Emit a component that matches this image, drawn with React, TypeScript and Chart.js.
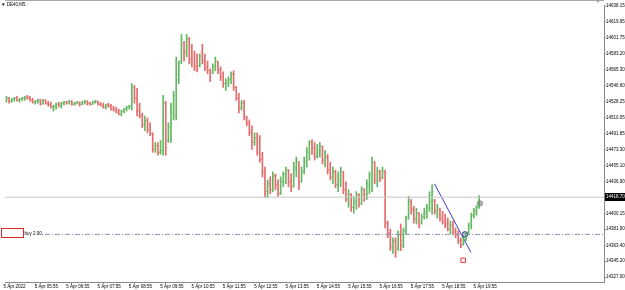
import React, { useEffect, useRef } from "react";
import { Chart, registerables } from "chart.js";

Chart.register(...registerables);

const symbolLabel = "▼ DE40,M5";
const timeLabels = [
  "5 Apr 2022", "5 Apr 05:55", "5 Apr 06:55", "5 Apr 07:55", "5 Apr 08:55", "5 Apr 09:55",
  "5 Apr 10:55", "5 Apr 11:55", "5 Apr 12:55", "5 Apr 13:55", "5 Apr 14:55", "5 Apr 15:55",
  "5 Apr 16:55", "5 Apr 17:55", "5 Apr 18:55", "5 Apr 19:55",
];
const priceTicks = [
  14638.15, 14619.95, 14601.75, 14583.2, 14565.3, 14546.6, 14528.25, 14510.05, 14491.85,
  14473.3, 14455.1, 14436.9, 14400.15, 14381.9, 14363.4, 14345.2, 14327.0,
];
const bidPrice = 14418.7;
const orderPrice = 14376.0;
const orderLabel = "buy 2.00";
const trendBars = [163.9, 177.9];
const trendPrices = [14434.1, 14355.2];
const entryMarker = { bar: 175.6, price: 14376.0 };
const positionMarker = { bar: 181.3, price: 14411.6 };
const alertMarker = { bar: 174.9, price: 14346.2 };

const opens = [
  14529.9, 14532.2, 14528.8, 14531.1, 14532.2, 14529.9, 14531.1, 14532.2, 14533.3, 14532.2,
  14529.9, 14527.7, 14528.8, 14529.9, 14526.6, 14529.9, 14526.6, 14524.3, 14522.1, 14523.2,
  14525.4, 14524.3, 14526.6, 14527.7, 14526.6, 14528.8, 14525.4, 14526.6, 14527.7, 14525.4,
  14527.7, 14528.8, 14526.6, 14525.4, 14527.7, 14528.8, 14525.4, 14524.3, 14522.1, 14524.3,
  14523.2, 14519.8, 14518.7, 14516.4, 14514.2, 14517.5, 14519.8, 14522.1, 14523.2, 14544.6,
  14532.2, 14517.5, 14511.9, 14501.8, 14506.3, 14496.1, 14491.6, 14473.6, 14478.1, 14470.2,
  14472.4, 14526.6, 14483.7, 14492.7, 14515.3, 14513.0, 14553.6, 14575.0, 14594.2, 14585.2,
  14599.8, 14577.3, 14577.3, 14569.4, 14569.4, 14585.2, 14576.2, 14568.3, 14563.8, 14561.5,
  14568.3, 14573.9, 14564.9, 14557.0, 14549.1, 14549.1, 14553.6, 14560.4, 14544.6, 14532.2,
  14520.9, 14526.6, 14509.6, 14504.0, 14492.7, 14481.5, 14487.1, 14481.5, 14462.3, 14447.7,
  14425.1, 14434.1, 14427.3, 14443.1, 14433.0, 14422.8, 14436.4, 14445.4, 14449.9, 14436.4,
  14430.7, 14451.0, 14458.9, 14436.4, 14447.7, 14458.9, 14470.2, 14481.5, 14474.7, 14465.7,
  14470.2, 14476.9, 14461.2, 14464.6, 14449.9, 14442.0, 14447.7, 14433.0, 14436.4, 14447.7,
  14427.3, 14417.2, 14421.7, 14407.1, 14411.6, 14421.7, 14411.6, 14427.3, 14418.3, 14431.9,
  14442.0, 14458.9, 14438.6, 14447.7, 14440.9, 14447.7, 14389.0, 14377.7, 14361.9, 14368.7,
  14359.7, 14375.5, 14363.1, 14380.0, 14395.8, 14413.8, 14404.8, 14393.5, 14400.3, 14389.0,
  14395.8, 14400.3, 14405.9, 14413.8, 14414.9, 14402.5, 14404.8, 14395.8, 14391.3, 14389.0,
  14382.2, 14386.8, 14380.0, 14376.6, 14368.7, 14364.2, 14370.9, 14377.7, 14385.6, 14398.0,
  14402.5, 14407.1,
];
const highs = [
  14534.5, 14533.3, 14532.2, 14533.3, 14534.5, 14532.2, 14533.3, 14534.5, 14535.6, 14534.5,
  14532.2, 14529.9, 14531.1, 14531.1, 14531.1, 14530.5, 14528.8, 14527.7, 14524.3, 14526.6,
  14527.7, 14527.7, 14528.8, 14528.8, 14529.9, 14529.4, 14527.7, 14528.8, 14528.2, 14528.8,
  14529.9, 14529.4, 14527.7, 14528.8, 14529.9, 14529.4, 14527.7, 14526.6, 14525.4, 14526.6,
  14525.4, 14523.2, 14522.1, 14519.8, 14518.7, 14520.9, 14523.2, 14524.3, 14549.1, 14546.9,
  14543.5, 14526.6, 14515.3, 14511.9, 14509.6, 14504.0, 14492.7, 14481.5, 14481.5, 14483.7,
  14535.6, 14528.8, 14504.0, 14526.6, 14540.1, 14579.5, 14575.0, 14605.5, 14597.6, 14605.5,
  14602.1, 14594.2, 14586.3, 14582.9, 14582.9, 14594.2, 14582.9, 14575.0, 14566.0, 14571.7,
  14579.5, 14575.0, 14568.3, 14562.6, 14554.7, 14557.0, 14562.6, 14563.8, 14545.7, 14537.8,
  14529.9, 14529.9, 14511.9, 14507.4, 14500.6, 14492.7, 14492.7, 14489.4, 14470.2, 14453.3,
  14438.6, 14442.0, 14447.7, 14445.4, 14438.6, 14442.0, 14447.7, 14453.3, 14450.5, 14445.4,
  14458.9, 14464.6, 14459.5, 14453.3, 14464.6, 14475.8, 14483.7, 14484.9, 14481.5, 14479.2,
  14481.5, 14477.5, 14472.4, 14467.9, 14458.9, 14453.3, 14449.9, 14447.7, 14453.3, 14448.3,
  14436.4, 14427.3, 14422.8, 14419.5, 14425.1, 14422.8, 14430.7, 14428.5, 14438.6, 14447.7,
  14464.6, 14459.5, 14453.3, 14449.9, 14453.3, 14449.9, 14391.3, 14382.2, 14372.1, 14372.1,
  14380.0, 14387.9, 14383.4, 14396.9, 14419.5, 14416.1, 14408.2, 14405.9, 14400.9, 14399.2,
  14405.9, 14410.4, 14425.1, 14433.0, 14416.1, 14410.4, 14405.9, 14402.5, 14399.2, 14394.7,
  14391.3, 14391.3, 14383.4, 14380.0, 14372.1, 14373.2, 14377.7, 14389.0, 14400.3, 14405.9,
  14409.3, 14420.6,
];
const lows = [
  14527.7, 14526.6, 14527.7, 14528.8, 14528.8, 14527.7, 14529.9, 14529.9, 14531.1, 14528.8,
  14526.6, 14525.4, 14526.6, 14524.3, 14525.4, 14525.4, 14523.2, 14520.9, 14517.5, 14519.8,
  14522.1, 14520.9, 14524.3, 14525.4, 14525.4, 14524.3, 14524.3, 14525.4, 14523.2, 14524.8,
  14525.4, 14524.3, 14524.3, 14524.8, 14526.6, 14524.3, 14523.2, 14520.9, 14519.8, 14522.1,
  14518.7, 14517.5, 14515.3, 14513.0, 14511.9, 14515.3, 14517.5, 14519.8, 14518.7, 14526.6,
  14511.9, 14509.6, 14498.4, 14495.0, 14492.7, 14489.4, 14470.2, 14470.2, 14466.8, 14467.9,
  14466.8, 14466.8, 14481.5, 14481.5, 14507.4, 14507.4, 14549.1, 14571.7, 14575.0, 14579.5,
  14571.7, 14568.3, 14563.8, 14562.6, 14568.3, 14571.7, 14563.8, 14560.4, 14551.4, 14560.4,
  14563.8, 14560.4, 14552.5, 14544.6, 14541.2, 14545.7, 14549.1, 14541.2, 14529.9, 14515.3,
  14518.7, 14507.4, 14500.6, 14489.4, 14473.6, 14478.1, 14466.8, 14458.9, 14442.0, 14418.3,
  14418.3, 14422.8, 14425.1, 14427.3, 14419.5, 14421.7, 14430.7, 14434.1, 14430.7, 14425.1,
  14430.2, 14442.0, 14427.3, 14436.0, 14445.4, 14453.3, 14461.2, 14467.9, 14461.2, 14463.4,
  14464.6, 14456.7, 14453.3, 14445.4, 14438.6, 14434.1, 14429.6, 14425.1, 14430.7, 14422.8,
  14413.8, 14407.1, 14402.5, 14400.3, 14404.8, 14407.1, 14410.4, 14413.8, 14416.1, 14422.8,
  14425.1, 14434.1, 14430.7, 14436.4, 14439.7, 14383.4, 14372.1, 14357.4, 14354.1, 14349.6,
  14357.4, 14357.4, 14360.8, 14376.6, 14393.5, 14399.2, 14389.0, 14387.9, 14383.4, 14387.9,
  14393.5, 14394.7, 14402.5, 14399.2, 14399.2, 14394.7, 14391.3, 14387.9, 14383.4, 14380.0,
  14376.6, 14375.5, 14372.1, 14365.3, 14360.8, 14363.6, 14368.7, 14376.6, 14382.2, 14394.7,
  14398.0, 14405.9,
];
const closes = [
  14532.2, 14528.8, 14531.1, 14532.2, 14529.9, 14531.1, 14532.2, 14533.3, 14532.2, 14529.9,
  14527.7, 14528.8, 14529.9, 14525.4, 14529.9, 14526.6, 14524.3, 14522.1, 14523.2, 14525.4,
  14524.3, 14526.6, 14527.7, 14526.6, 14528.8, 14525.4, 14526.6, 14527.7, 14525.4, 14527.7,
  14528.8, 14526.6, 14525.4, 14527.7, 14528.8, 14525.4, 14524.3, 14522.1, 14524.3, 14523.2,
  14519.8, 14518.7, 14516.4, 14514.2, 14517.5, 14519.8, 14522.1, 14523.2, 14544.6, 14532.2,
  14517.5, 14511.9, 14501.8, 14506.3, 14496.1, 14491.6, 14473.6, 14478.1, 14470.2, 14472.4,
  14526.6, 14475.8, 14499.5, 14522.1, 14535.6, 14560.4, 14571.7, 14599.8, 14585.2, 14601.0,
  14577.3, 14573.9, 14568.3, 14564.9, 14580.7, 14575.0, 14567.1, 14563.8, 14555.9, 14569.4,
  14575.0, 14564.9, 14555.9, 14549.1, 14551.4, 14553.6, 14559.3, 14544.6, 14532.2, 14520.9,
  14526.6, 14510.8, 14504.0, 14492.7, 14481.5, 14487.1, 14470.2, 14462.3, 14447.7, 14425.1,
  14434.1, 14427.3, 14443.1, 14433.0, 14422.8, 14436.4, 14445.4, 14449.9, 14436.4, 14429.6,
  14453.3, 14461.2, 14434.1, 14447.7, 14461.2, 14472.4, 14481.5, 14474.7, 14465.7, 14472.4,
  14478.1, 14461.2, 14464.6, 14449.9, 14442.0, 14447.7, 14433.0, 14438.6, 14449.9, 14427.3,
  14417.2, 14422.8, 14407.1, 14413.8, 14421.7, 14410.4, 14427.3, 14418.3, 14434.1, 14444.3,
  14458.9, 14438.6, 14447.7, 14438.6, 14449.9, 14389.0, 14377.7, 14361.9, 14368.7, 14355.2,
  14375.5, 14363.1, 14380.0, 14393.5, 14413.8, 14404.8, 14393.5, 14400.3, 14386.8, 14395.8,
  14402.5, 14407.1, 14420.6, 14425.1, 14402.5, 14407.1, 14393.5, 14390.1, 14386.8, 14382.2,
  14386.8, 14377.7, 14375.5, 14368.7, 14363.1, 14369.8, 14375.5, 14386.8, 14398.0, 14403.7,
  14407.1, 14418.7,
];

const X_MIN = -0.57;
const X_MAX = 228.83;
const Y_MIN = 14321.35;
const Y_MAX = 14639.28;
const UP = "rgba(70,170,70,0.85)";
const DOWN = "rgba(225,80,80,0.85)";
const UP_TICK = "rgba(70,170,70,0.45)";
const DOWN_TICK = "rgba(225,80,80,0.45)";
const FONT = "Liberation Sans";

const overlay = {
  id: "overlay",
  afterDatasetsDraw(chart: any) {
    const { ctx, chartArea, scales } = chart;
    const ys = scales.y;
    ctx.save();
    ctx.strokeStyle = "#a8a8a8";
    ctx.lineWidth = 1;
    ctx.beginPath();
    ctx.moveTo(chartArea.left, 0.5);
    ctx.lineTo(chartArea.right, 0.5);
    ctx.stroke();
    ctx.fillStyle = "#000";
    ctx.font = `4.5px "${FONT}"`;
    ctx.textBaseline = "middle";
    ctx.textAlign = "left";
    ctx.fillText(symbolLabel, 1, 4.5);

    const oy = ys.getPixelForValue(orderPrice);
    ctx.fillStyle = "#fff";
    ctx.fillRect(0, oy - 6, 41, 10);
    ctx.strokeStyle = "#e02828";
    ctx.lineWidth = 1;
    ctx.strokeRect(1.5, Math.round(oy) - 5.5, 22, 9);
    ctx.fillStyle = "#000";
    ctx.fillText(orderLabel, 24.5, oy - 1);

    const by = ys.getPixelForValue(bidPrice);
    ctx.fillStyle = "#000";
    ctx.fillRect(chartArea.right + 1, Math.round(by) - 4, 25, 8);
    ctx.fillStyle = "#fff";
    ctx.fillText(bidPrice.toFixed(2), chartArea.right + 2, by);

    ctx.fillStyle = "#a0a0a0";
    ctx.beginPath();
    ctx.moveTo(596, 0);
    ctx.lineTo(600, 0);
    ctx.lineTo(598, 3);
    ctx.closePath();
    ctx.fill();
    ctx.restore();
  },
};

export default function App() {
  const ref = useRef<HTMLCanvasElement>(null);
  useEffect(() => {
    if (!ref.current) return;
    const barData = highs.map((h, i) => ({ x: i, y: [lows[i], h] }));
    const isUp = closes.map((c, i) => c >= opens[i]);
    const colors = isUp.map((u) => (u ? UP : DOWN));
    const tickColors = isUp.map((u) => (u ? UP_TICK : DOWN_TICK));
    const openTicks = opens.map((o, i) => ({ x: i - 0.4, y: o }));
    const closeTicks = closes.map((c, i) => ({ x: i + 0.4, y: c }));
    const chart = new Chart(ref.current, {
      type: "bar",
      data: {
        datasets: [
          {
            type: "line",
            data: [{ x: X_MIN, y: bidPrice }, { x: X_MAX, y: bidPrice }],
            borderColor: "#c8c8c8",
            borderWidth: 1,
            pointRadius: 0,
          } as any,
          {
            type: "line",
            data: [{ x: X_MIN, y: orderPrice }, { x: X_MAX, y: orderPrice }],
            borderColor: "#8392b8",
            borderWidth: 1,
            borderDash: [5, 2, 1, 2],
            pointRadius: 0,
          } as any,
          {
            type: "bar",
            data: barData,
            backgroundColor: colors,
            borderWidth: 0,
            barThickness: 1,
            grouped: false,
          } as any,
          {
            type: "line",
            data: openTicks,
            showLine: false,
            pointStyle: "line",
            pointRadius: 0.6,
            pointBorderWidth: 1,
            pointBorderColor: tickColors,
          } as any,
          {
            type: "line",
            data: closeTicks,
            showLine: false,
            pointStyle: "line",
            pointRadius: 0.6,
            pointBorderWidth: 1,
            pointBorderColor: tickColors,
          } as any,
          {
            type: "line",
            data: trendBars.map((b, i) => ({ x: b, y: trendPrices[i] })),
            borderColor: "#3b3bd0",
            borderWidth: 1,
            pointRadius: 0,
          } as any,
          {
            type: "line",
            data: [{ x: entryMarker.bar, y: entryMarker.price }],
            showLine: false,
            pointStyle: "circle",
            pointRadius: 2.7,
            pointBorderWidth: 1,
            pointBorderColor: "#2c3566",
            pointBackgroundColor: "rgba(170,175,200,0.8)",
          } as any,
          {
            type: "line",
            data: [{ x: positionMarker.bar, y: positionMarker.price }],
            showLine: false,
            pointStyle: "circle",
            pointRadius: 2.6,
            pointBorderWidth: 1,
            pointBorderColor: "#8c8c8c",
            pointBackgroundColor: "#b4b4b4",
          } as any,
          {
            type: "line",
            data: [{ x: alertMarker.bar, y: alertMarker.price }],
            showLine: false,
            pointStyle: "rect",
            pointRadius: 3.2,
            pointBorderWidth: 1,
            pointBorderColor: "#e04040",
            pointBackgroundColor: "#fff0f0",
          } as any,
        ],
      },
      options: {
        animation: false,
        responsive: false,
        devicePixelRatio: 1,
        events: [],
        layout: { padding: 0 },
        plugins: { legend: { display: false }, tooltip: { enabled: false } },
        scales: {
          x: {
            type: "linear",
            min: X_MIN,
            max: X_MAX,
            offset: false,
            grid: { display: true, drawOnChartArea: false, drawTicks: true, tickLength: 2, color: "#909090", offset: false },
            border: { display: true, color: "#8a8a8a", width: 1 },
            ticks: {
              autoSkip: false,
              maxRotation: 0,
              align: "start",
              labelOffset: -5.6,
              padding: 0,
              color: "#000",
              font: { size: 4.5, family: FONT },
              callback: (_v: any, idx: number) => timeLabels[idx],
            },
            afterBuildTicks: (scale: any) => {
              scale.ticks = timeLabels.map((_, k) => ({ value: 12 * k + 1 }));
            },
            afterFit: (scale: any) => {
              scale.height = 8;
              scale.paddingLeft = 0;
              scale.paddingRight = 0;
            },
          },
          y: {
            type: "linear",
            position: "right",
            min: Y_MIN,
            max: Y_MAX,
            beginAtZero: false,
            grid: { display: true, drawOnChartArea: false, drawTicks: true, tickLength: 2, color: "#909090" },
            border: { display: true, color: "#8a8a8a", width: 1 },
            ticks: {
              autoSkip: false,
              padding: 0,
              color: "#000",
              font: { size: 4.5, family: FONT },
              callback: (v: any) => Number(v).toFixed(2),
            },
            afterBuildTicks: (scale: any) => {
              scale.ticks = priceTicks.map((v) => ({ value: v }));
            },
            afterFit: (scale: any) => {
              scale.width = 21;
              scale.paddingTop = 0;
              scale.paddingBottom = 0;
            },
          },
        },
      } as any,
      plugins: [overlay],
    });
    return () => chart.destroy();
  }, []);
  return (
    <div style={{ position: "absolute", left: 0, top: 0, width: 625, height: 290, background: "#fff" }}>
      <canvas ref={ref} width={625} height={290} style={{ display: "block" }} />
    </div>
  );
}
